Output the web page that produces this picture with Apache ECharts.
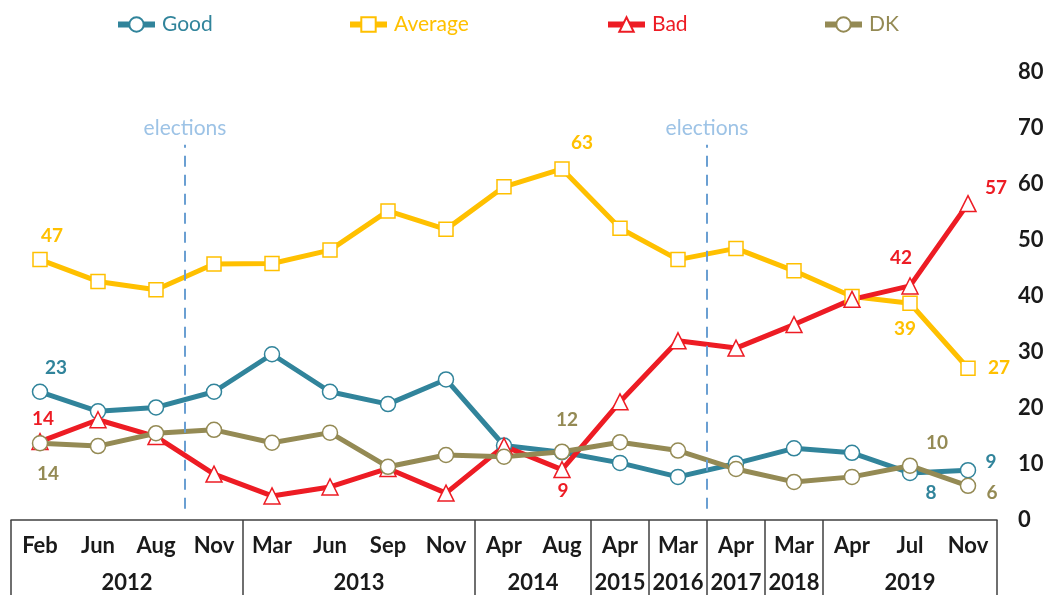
<!DOCTYPE html>
<html><head><meta charset="utf-8">
<script src="https://cdn.jsdelivr.net/npm/echarts@6/dist/echarts.min.js"></script>
<style>html,body{margin:0;padding:0;background:#fff}#c{width:1047px;height:595px}</style>
</head><body><div id="c"></div>
<script>
// ---- data ----
const categories = ['Feb','Jun','Aug','Nov','Mar','Jun','Sep','Nov','Apr','Aug','Apr','Mar','Apr','Mar','Apr','Jul','Nov'];
const yearLabels = ['2012','2013','2014','2015','2016','2017','2018','2019'];
const yearGroupSizes = [4,4,2,1,1,1,1,3];
const good    = [22.9,19.4,20.1,22.9,29.6,22.9,20.7,25.1,13.3,12.1,10.2,7.7,10.1,12.8,12.0,8.4,8.9];
const average = [46.5,42.6,41.1,45.7,45.8,48.2,55.2,51.9,59.5,62.7,52.1,46.5,48.5,44.5,39.9,38.7,27.1];
const bad     = [14.0,17.9,14.9,8.2,4.3,5.9,9.2,4.8,13.2,9.0,21.1,32.0,30.7,34.9,39.4,41.8,56.5];
const dk      = [13.7,13.2,15.5,16.1,13.8,15.6,9.5,11.6,11.3,12.2,13.9,12.4,9.1,6.8,7.7,9.7,6.1];
const electionAfterIndex = [2, 11];
const yMin = 0, yMax = 80, yStep = 10;

// ---- derived year axis positions ----
const yearCenters = [], yearBounds = [-0.5];
let acc = 0;
yearGroupSizes.forEach(n => { yearCenters.push(acc + (n - 1) / 2); acc += n; yearBounds.push(acc - 0.5); });
const yearAt = v => { const i = yearCenters.findIndex(c => Math.abs(c - v) < 1e-6); return i >= 0 ? yearLabels[i] : ''; };

const FONT = 'Lato, "Open Sans", sans-serif';
const defs = [
  {name:'Good', data:good, color:'#31849b', symbol:'circle', size:15, legendLeft:115,
   labels:{0:[16,-24],15:[21,20],16:[23,-8]}},
  {name:'Average', data:average, color:'#ffc000', symbol:'rect', size:14, legendLeft:347,
   labels:{0:[12,-24],9:[20,-26],15:[-5,26],16:[31,0]}},
  {name:'Bad', data:bad, color:'#ed1c24', symbol:'triangle', size:16, legendLeft:605,
   labels:{0:[3,-23],9:[1,21],15:[-9,-28],16:[28,-16]}},
  {name:'DK', data:dk, color:'#948a54', symbol:'circle', size:15, legendLeft:822,
   labels:{0:[8,31],9:[5,-32],15:[27,-23],16:[24,7]}}
];

const series = defs.map(d => ({
  type:'line', name:d.name, xAxisIndex:0, yAxisIndex:0,
  data: d.data.map((v,i) => d.labels[i] ? {value:v, label:{show:true, position:'inside', offset:d.labels[i]}} : v),
  symbol:d.symbol, symbolSize:d.size, showAllSymbol:true,
  lineStyle:{color:d.color, width:5},
  itemStyle:{color:'#fff', borderColor:d.color, borderWidth:1.5},
  label:{show:false, formatter:p => Math.round(p.value), color:d.color, fontSize:19, fontWeight:'bold', fontFamily:FONT},
  emphasis:{disabled:true}
}));

series.unshift({
  type:'line', name:'elections', xAxisIndex:1, yAxisIndex:0, data:[], silent:true,
  markLine:{
    silent:true, symbol:['none','none'], animation:false,
    lineStyle:{color:'#6a9fd2', width:2, type:[11,8]},
    label:{show:true, position:'end', formatter:'elections', color:'#9dc3e6', fontSize:21, fontFamily:FONT, distance:6},
    data: electionAfterIndex.map(i => [{coord:[i + 0.5, 2]}, {coord:[i + 0.5, 67]}])
  }
});

const chart = echarts.init(document.getElementById('c'), null, {renderer:'canvas'});
chart.setOption({
  animation:false,
  backgroundColor:'#fff',
  grid:{left:11, right:50, top:72, bottom:75},
  legend: defs.map(d => ({
    data:[d.name], left:d.legendLeft, top:14, padding:0, itemWidth:37, itemHeight:18, selectedMode:false,
    lineStyle:{width:6},
    textStyle:{color:d.color, fontSize:21, fontFamily:FONT, padding:[0,0,0,2]}
  })),
  xAxis:[
    {type:'category', data:categories, boundaryGap:true,
     axisLine:{lineStyle:{color:'#404040', width:1.5}}, axisTick:{show:false},
     axisLabel:{interval:0, color:'#1a1a1a', fontSize:22, fontWeight:'bold', fontFamily:FONT, margin:15}},
    {type:'value', position:'bottom', min:-0.5, max:16.5, interval:0.5,
     axisLine:{show:false}, splitLine:{show:false},
     axisTick:{show:true, customValues:yearBounds, length:76, lineStyle:{color:'#404040', width:1.5}},
     axisLabel:{customValues:yearCenters, formatter:v => yearAt(v), color:'#1a1a1a', fontSize:22, fontWeight:'bold', fontFamily:FONT, margin:52}}
  ],
  yAxis:{type:'value', position:'right', min:yMin, max:yMax, interval:yStep,
    axisLine:{show:false}, axisTick:{show:false}, splitLine:{show:false},
    axisLabel:{margin:21, color:'#1a1a1a', fontSize:22, fontWeight:'bold', fontFamily:FONT}},
  series
});
</script></body></html>
